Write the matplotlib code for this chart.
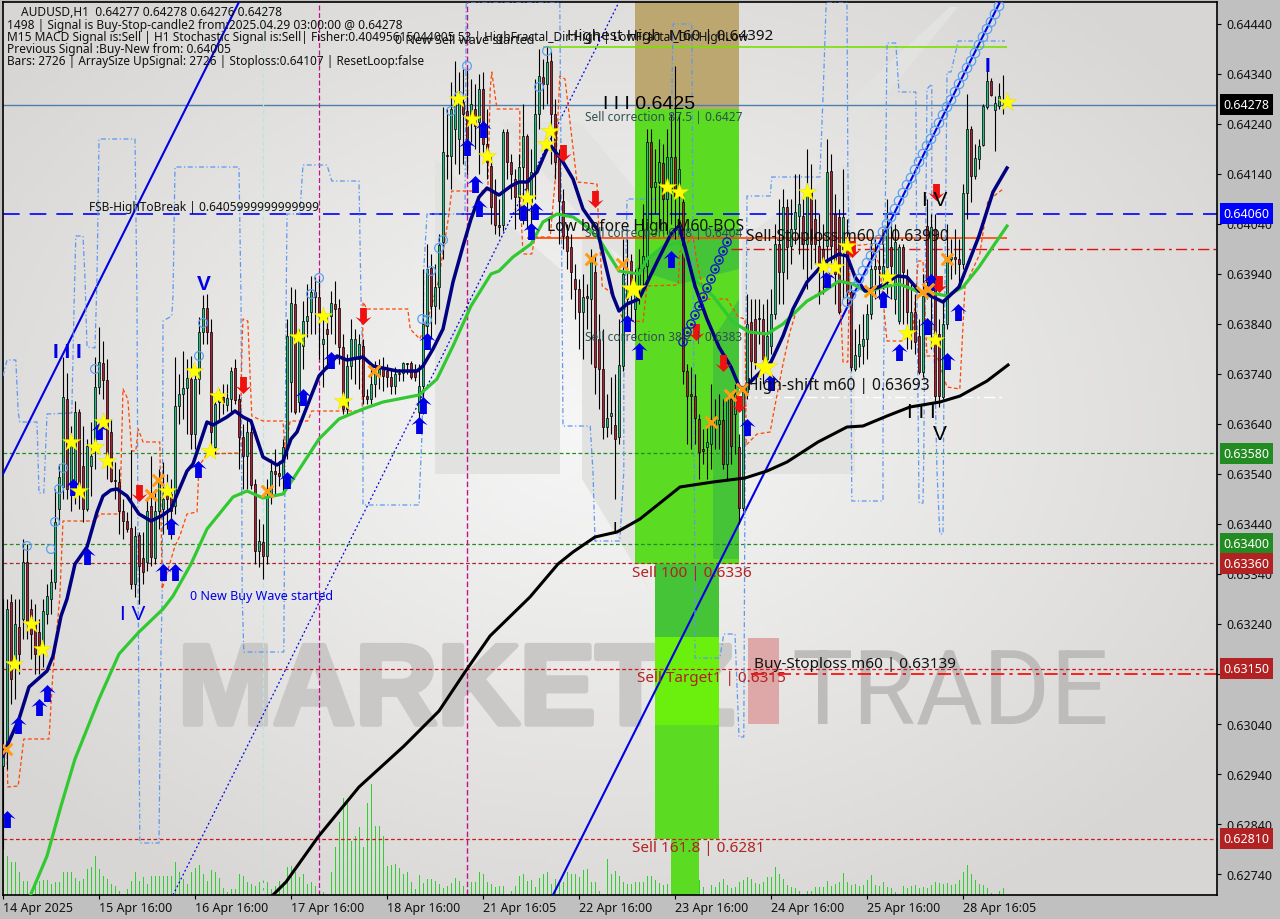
import matplotlib
matplotlib.use("Agg")
import matplotlib.pyplot as plt
import matplotlib.patheffects as pe
import numpy as np
from matplotlib.patches import Polygon, Rectangle
from matplotlib.path import Path

# prices are kept in points (price * 100000), one entry per H1 bar
opens = [62955,62999,63283,63169,63233,63249,63363,63269,63239,63223,63189,63259,63289,63323,63469,63513,63689,63515,63509,63663,
63555,63469,63555,63589,63713,63761,63727,63623,63527,63523,63465,63445,63431,63319,63417,63371,63363,63475,63371,63465,
63469,63509,63499,63475,63675,63699,63711,63729,63619,63729,63823,63871,63823,63593,63683,63693,63677,63689,63751,63689,
63613,63575,63623,63519,63385,63403,63375,63493,63545,63541,63535,63595,63723,63879,63683,63795,63845,63863,63903,63893,
63799,63829,63855,63879,63871,63793,63669,63755,63773,63769,63795,63695,63689,63719,63735,63749,63745,63733,63715,63739,
63741,63761,63761,63743,63663,63715,63835,63951,63875,63913,64003,64177,64175,64229,64209,64283,64265,64249,64269,64243,
64309,64199,64155,64099,64037,64037,64223,64163,64129,64093,64153,64215,64083,64143,64259,64333,64319,64365,64259,64169,
64085,64015,63993,63929,63909,63863,63895,63889,63943,63809,63749,63633,63655,63637,63613,63755,63889,63965,63869,63915,
63951,63955,64203,64113,64123,64161,64089,64103,64173,64099,64083,63745,63699,63695,63649,63589,63593,63599,63633,63639,
63647,63559,63689,63659,63593,63471,63703,63843,63849,63851,63849,63769,63795,63859,63999,63943,64073,63995,64029,64055,
64055,63999,64103,64049,63995,63989,63995,64145,64059,64053,63989,64003,63903,63749,63775,63795,63809,63859,63949,63955,
63933,63953,63993,63889,63845,63993,63933,63825,63863,63815,63743,64035,63909,64029,63819,63693,63839,63969,63973,63969,
63959,64101,64229,64135,64169,64197,64273,64325,64267,64275,64277]
closes = [62975,63269,63129,63239,63179,63363,63239,63219,63179,63189,63265,63295,63323,63443,63533,63693,63509,63595,63663,63509,
63469,63595,63575,63713,63763,63727,63563,63525,63525,63465,63445,63429,63319,63415,63355,63343,63465,63373,63465,63525,
63489,63489,63465,63675,63699,63711,63731,63619,63729,63823,63871,63823,63623,63679,63693,63683,63691,63745,63687,63613,
63575,63623,63517,63385,63405,63375,63493,63545,63539,63535,63593,63815,63881,63663,63809,63845,63855,63903,63893,63855,
63809,63819,63881,63869,63793,63669,63755,63809,63809,63799,63695,63689,63719,63743,63749,63735,63733,63715,63739,63741,
63761,63759,63733,63733,63715,63839,63949,63875,63913,63997,64183,64175,64269,64289,64283,64259,64209,64279,64235,64309,
64199,64163,64073,64037,64033,64223,64163,64139,64093,64153,64215,64089,64143,64259,64335,64319,64363,64259,64163,64085,
64015,63985,63943,63909,63863,63893,63891,63969,63753,63749,63633,63651,63661,63609,63757,63939,63909,63909,63909,63951,
63975,64203,64113,64123,64163,64089,64173,64173,64095,64149,63745,63695,63695,63651,63583,63585,63603,63649,63649,63647,
63559,63689,63595,63699,63471,63703,63839,63765,63763,63849,63769,63815,63859,63999,63943,64073,63993,64029,64063,64079,
63999,64103,63999,63999,63955,63955,64143,63995,63939,63863,64053,63903,63753,63777,63799,63809,63859,63949,63955,63949,
63955,64029,63955,64003,63993,63943,63863,63863,63803,63743,63895,63923,64033,63695,63695,63839,63969,63973,63969,63959,
64101,64229,64135,64171,64195,64275,64325,64297,64281,64295,64278]
highs = [63289,63289,63299,63289,63289,63409,63399,63289,63279,63249,63289,63319,63349,63509,63559,63773,63741,63635,63685,63669,
63635,63609,63643,63773,63833,63805,63769,63649,63563,63549,63489,63463,63587,63435,63423,63423,63489,63575,63509,63549,
63563,63539,63529,63773,63739,63785,63769,63775,63755,63853,63897,63899,63849,63699,63709,63719,63719,63753,63769,63699,
63639,63649,63649,63529,63449,63439,63529,63569,63589,63565,63609,63849,63913,63909,63829,63885,63919,63935,63933,63929,
63859,63853,63905,63925,63889,63819,63779,63849,63829,63819,63809,63709,63749,63765,63769,63773,63759,63749,63753,63749,
63763,63761,63765,63759,63759,63949,63999,63979,63959,64019,64273,64269,64323,64365,64343,64349,64349,64329,64319,64339,
64343,64269,64179,64129,64089,64229,64229,64179,64149,64179,64279,64219,64189,64329,64389,64369,64393,64385,64289,64189,
64109,64039,64019,63959,63929,63939,63919,63989,63979,63859,63829,63699,63733,63739,63849,64009,64009,63979,63949,63989,
64079,64229,64229,64189,64209,64199,64229,64259,64355,64259,64099,63759,63753,63739,63659,63629,63639,63719,63689,63699,
63689,63695,63699,63719,63619,63713,63899,63889,63889,63889,63879,63889,63909,64039,64089,64109,64089,64089,64139,64139,
64089,64189,64159,64089,64059,64039,64209,64179,64099,64069,64149,64049,63919,63829,63839,63859,63879,64009,64009,63989,
63999,64089,64039,64039,63999,63999,63949,63919,63899,63849,63939,64089,64059,64059,63849,63889,64039,64009,64029,64009,
64119,64299,64235,64199,64209,64279,64345,64331,64295,64321,64337]
lows = [62789,62949,63079,63089,63139,63209,63209,63169,63139,63139,63153,63239,63259,63309,63439,63489,63489,63465,63479,63469,
63443,63465,63495,63549,63699,63689,63529,63523,63489,63419,63409,63423,63309,63293,63279,63319,63345,63355,63359,63429,
63419,63429,63409,63459,63639,63649,63619,63589,63589,63699,63799,63799,63589,63579,63649,63659,63665,63659,63679,63549,
63509,63509,63509,63359,63353,63329,63359,63479,63499,63515,63499,63569,63663,63659,63663,63749,63813,63819,63819,63769,
63713,63749,63819,63799,63759,63659,63659,63729,63719,63709,63679,63679,63679,63693,63709,63705,63713,63699,63699,63725,
63725,63739,63729,63725,63639,63659,63819,63809,63839,63869,63969,64129,64109,64159,64139,64159,64139,64203,64189,64139,
64183,64129,64039,64019,64015,64025,64129,64089,64029,64049,64039,64029,64019,64089,64229,64269,64279,64159,64129,63999,
63989,63949,63889,63849,63789,63769,63829,63759,63699,63669,63609,63613,63619,63489,63599,63745,63849,63849,63809,63879,
63909,63919,64039,64059,64029,64019,64019,64039,64009,64019,63719,63599,63589,63599,63529,63559,63529,63549,63589,63589,
63549,63529,63559,63579,63439,63465,63689,63719,63749,63799,63719,63749,63779,63849,63879,63879,63929,63959,63999,63979,
63949,63909,63949,63959,63879,63899,63959,63959,63879,63859,63889,63879,63745,63745,63753,63759,63769,63849,63889,63889,
63909,63899,63889,63859,63839,63839,63789,63789,63779,63739,63733,63889,63789,63685,63673,63689,63829,63929,63939,63909,
63949,64049,64083,64129,64149,64195,64269,64295,64185,64269,64259]
volumes = [46,39,33,33,23,14,14,3,9,14,15,15,11,13,13,23,23,23,17,14,16,26,28,39,26,19,16,11,9,4,1,6,14,23,14,18,11,19,19,19,
19,19,19,33,23,16,11,23,27,30,21,14,25,23,17,7,3,6,6,21,19,13,11,9,13,19,13,6,9,14,13,28,29,23,18,21,11,13,9,3,
3,1,23,48,73,97,96,54,59,68,48,92,111,69,69,59,29,30,31,27,21,23,13,6,20,12,16,16,14,11,7,9,12,17,14,9,6,13,13,23,
21,13,11,8,9,9,1,4,9,19,21,14,15,8,17,21,23,11,16,13,13,23,21,21,18,25,26,13,13,4,1,36,21,24,19,13,11,11,13,13,
13,19,19,15,12,10,11,39,39,39,38,20,18,16,15,8,1,10,8,13,16,10,7,8,13,15,18,16,12,11,13,18,18,28,21,16,10,8,7,4,
1,4,4,8,8,8,14,9,11,13,22,13,10,11,9,10,15,20,10,9,13,8,7,3,1,9,7,9,10,7,8,7,10,13,12,11,12,10,11,15,
23,30,21,15,11,10,7,2,1,4,7]

navy_bar = [0,1,4,6.5,11,12.5,14.5,16,18,21,23.5,25,27,28.5,31,34,37,40,42,46,47.5,51,52.5,56,58,60,62,65,68.5,70,72,73.5,79,83.5,86,90,92.5,98.5,103.5,105,107.5,110,112.5,115,117,119,121,124,127,129,131,133.5,136,137,140,142.5,145,148.5,152.5,154,156,159,160.5,163.5,167,169,170.5,173,176,179,182,184,185,192,195,197.5,201,205.5,209,211,213,215.5,219,223.5,226,229,232,233.5,235,239,244,247.5,251]
navy_val = [62975,62995,63049,63113,63145,63175,63255,63289,63359,63393,63463,63495,63507,63509,63495,63459,63445,63457,63469,63545,63559,63643,63637,63653,63665,63653,63645,63573,63557,63565,63609,63623,63735,63775,63767,63773,63755,63745,63745,63755,63789,63829,63923,63995,64049,64093,64111,64097,64115,64123,64123,64143,64189,64195,64163,64129,64069,64029,63895,63865,63879,63889,63913,63963,64019,64035,63993,63915,63849,63793,63753,63715,63709,63763,63815,63869,63923,63963,63979,63975,63933,63905,63913,63935,63933,63905,63895,63889,63883,63913,64015,64103,64151]
green_bar = [7,11,14.5,18,24,29,34,40,42.5,47,51,57.5,61,65,70,72.5,79,84,90,95,104,108.5,112.5,117,122,124,127.5,132,135,138.5,142.5,146,149,154,159,161,165,169,173.5,177.5,182.5,186.5,191,195,201,205,209,212.5,216,220,224,228.5,233.5,236,240,244,251]
green_val = [62699,62775,62875,62969,63089,63179,63223,63269,63295,63359,63429,63493,63505,63491,63499,63529,63609,63649,63669,63683,63697,63729,63795,63875,63939,63945,63973,63999,64043,64059,64053,64033,64009,63945,63939,63969,63993,64003,63923,63895,63843,63823,63819,63839,63885,63903,63925,63919,63903,63913,63919,63905,63899,63895,63913,63953,64035]
black_bar = [67.5,70.75,78.75,89,100.25,109,115.5,121.75,131.75,138.75,142.5,148,153.5,159.25,169.25,177.5,185.5,191,196,203.75,211,215,221,226.75,234.25,239.25,246,251.25]
black_val = [62697,62723,62813,62913,62995,63065,63143,63215,63293,63359,63383,63413,63423,63449,63513,63523,63531,63545,63563,63603,63633,63635,63655,63673,63683,63695,63725,63757]

envelope_bar = [0,1,3.2,3.8,4.2,8.5,9,10.2,11,17.2,17.8,18.2,20,20.5,21,23,23.5,24,33,33.5,33.8,34.2,39,39.5,39.8,40,42.2,42.5,43,59,59.5,59.8,60.2,70.2,70.8,71,74.2,75,81,82.2,89,89.5,90,90,104,104.8,105.2,106,108.5,115.5,115.8,139.2,140,146.8,147.5,148,154.2,155.2,155.2,156,166.8,167.5,172.2,173,173,179.2,180.2,183,184,185.2,185.5,186,191.8,192.2,204.2,205,205.8,211,211.2,212,212.2,220,220,221,223.2,224,228.2,228.5,229,230,230.2,231,232.2,232.2,233,233.5,234.2,235,235.2,236,237,238.8,250.5]
envelope_val = [63735,63767,63767,63663,63643,63643,63501,63501,63659,63661,63889,64015,64015,63929,63793,63791,63929,64209,64209,63889,63293,62801,62801,63189,63295,63845,63855,63895,64153,64153,63889,63295,63183,63183,63889,64059,64059,64157,64157,64125,64125,63889,63755,63477,63477,63629,63949,64059,64059,64059,64483,64483,63635,63635,63543,63405,63405,63543,63723,64089,64089,64439,64439,63295,63171,63171,63219,63219,63013,63013,63529,64095,64095,64133,64133,64291,64483,64483,64155,63755,63485,63485,63623,64401,64401,64303,64303,63895,63481,63481,63583,64309,64319,63895,63729,63543,63419,63419,63683,64343,64343,64405,64405]
stop_bar = [1,1.2,3.8,5.2,11.5,12.5,14.2,15,23,24.2,29.2,30,31.2,32.2,33.2,33.8,35,39.2,39.8,43,44.2,46,48.5,49,51,59.2,59.8,60,61.2,62.2,65,70,70.5,71.8,76.2,77.2,89.8,90,91,101.2,101.8,104.2,106.2,108.8,111.2,112.2,121.2,121.8,122.2,123.5,129.2,129.2,130,132.2,133,136.8,138,139.2,140.5,143.5,148.5,148.8,149.8,151.8,155,160,161,168.8,169.2,172.5,173.5,175.5,181,183.8,185.5,185.8,188.5,191.8,192.5,195,196.8,198.5,202.2,206,209.2,210,211.2,211.8,217.2,219.2,221,225,227.5,228.8,230,231,233.5,236,239.2,240.5,244.2,246.2,250]
stop_val = [62989,62913,62915,63009,63009,63145,63293,63445,63445,63459,63459,63709,63689,63585,63585,63629,63603,63603,63309,63395,63415,63459,63463,63555,63579,63581,63809,63849,63845,63655,63645,63645,63589,63645,63645,63665,63665,63883,63869,63869,63829,63809,63849,63923,64043,64105,64105,64309,64343,64269,64269,64109,63979,63979,64013,64013,64123,64335,64329,64123,64119,64055,63915,63903,63849,63843,63915,63917,63983,64015,63963,63889,63889,63853,63849,63597,63619,63623,63655,63759,63825,63869,63889,63919,63919,63763,63763,63995,63999,63955,63805,63805,63829,63965,63965,63775,63775,63713,63709,63915,63979,64085,64109]

star_bar = [2.8,7,9.8,17,19,23,25,26,41,47.8,51.8,53.8,73.8,80,85,113.8,117.2,121,131,135.8,136.8,166,169,201,205,208,211,221,226,233,251]
star_val = [63159,63239,63189,63603,63505,63593,63643,63565,63505,63745,63585,63695,63813,63855,63685,64289,64249,64175,64091,64199,64225,64113,64103,64103,63955,63953,63995,63933,63821,63807,64283]
big_star_bar = [157.5,190.5]
big_star_val = [63909,63753]
up_bar = [1,3.8,9,11,21,17.5,24,40,43,42,48.8,71,75,82,104,105,106,116,118,119,120,130,133,132,156,159,167,186,192,206,220,224,231,232,236,238.8]
up_val = [62849,63037,63073,63101,63375,63513,63625,63343,63343,63435,63549,63527,63693,63767,63637,63677,63805,64193,64119,64071,64229,64063,64065,64025,63841,63785,63969,63633,63723,63929,63889,63783,63835,63923,63765,63863]
down_bar = [34,60,90,140,148,173.2,180,184,233.2,234,212.2]
down_val = [63501,63717,63855,64181,64089,63823,63761,63679,64103,63919,63989]
cross_bar = [0.8,37,38.8,66,92.8,147,154.8,177,181.8,184.8,216.8,229.8,231.2,236]
cross_val = [62989,63497,63527,63505,63745,63969,63959,63643,63697,63709,63905,63903,63909,63969]
ring_bar = [6,12,13,14,15,23,49,50,77,79,104.8,106,107,109,110,112,114,116,134,136]
ring_val = [63395,63389,63443,63509,63551,63749,63775,63841,63899,63931,63849,63847,63945,63991,64007,64265,64295,64355,64313,64385]
chain_low_bar = list(range(170, 182))
chain_low_val = [63803,63823,63839,63857,63875,63893,63911,63929,63949,63967,63985,64003]
chain_high_bar = list(range(211, 250))
chain_high_val = [63883,63897,63913,63929,63945,63961,63975,63991,64007,64023,64039,64053,64069,64085,64101,64117,64131,64147,64163,64179,64195,64209,64225,64241,64257,64273,64287,64303,64319,64335,64351,64365,64381,64397,64413,64429,64443,64459,64475]

x_tick_bars = [0,24,48,72,96,120,144,168,192,216,240]
x_tick_labels = ["14 Apr 2025","15 Apr 16:00","16 Apr 16:00","17 Apr 16:00","18 Apr 16:00","21 Apr 16:05","22 Apr 16:00","23 Apr 16:00","24 Apr 16:00","25 Apr 16:00","28 Apr 16:05"]
y_tick_labels = ["0.64440","0.64340","0.64240","0.64140","0.64040","0.63940","0.63840","0.63740","0.63640","0.63540","0.63440","0.63340","0.63240","0.63140","0.63040","0.62940","0.62840","0.62740"]
tag_labels = ["0.64278","0.64060","0.63580","0.63400","0.63360","0.63150","0.62810"]
tag_colors = ["#000000","#0000ff","#228b22","#228b22","#b22222","#b22222","#b22222"]


W, H = 1280, 920
fig = plt.figure(figsize=(W / 100, H / 100), dpi=100, facecolor="#c0c0c0")
plt.rcParams["font.family"] = ["Noto Sans", "DejaVu Sans"]
rect = [3 / W, 1 - 896 / H, (1217 - 3) / W, (896 - 3) / H]


def px(points):
    # 画面ピクセル -> figure座標 (装飾用)
    return [(x / W, 1 - y / H) for x, y in points]


def label(x, y, s, size=9, color="#111111", **kw):
    fig.text(x / W, 1 - y / H, s, fontsize=size, color=color, va="center", zorder=20, **kw)


# --- 背景層: グラデーション, ロゴ, 出来高 ---
back = fig.add_axes(rect, zorder=1)
back.set_xlim(0, 303.5)
back.set_ylim(0, 893)
back.axis("off")
yy, xx = np.mgrid[0:1:200j, 0:1:270j]
r = np.clip(np.hypot((xx - 0.49) / 0.62, (yy - 0.53) / 0.62), 0, 1)
shade = 0.97 - 0.125 * r
rgb = np.dstack([shade, shade - 0.004 * r, shade - 0.012 * r])
back.imshow(rgb, extent=[0, 303.5, 0, 893], aspect="auto", origin="lower", zorder=0)

logo = [
    [(435, 160), (560, 270), (560, 475), (435, 475)],
    [(500, 123), (580, 123), (635, 190), (635, 270), (600, 240)],
    [(582, 190), (635, 300), (635, 565), (655, 600), (582, 480)],
    [(742, 240), (855, 158), (855, 475), (742, 475)],
    [(820, 128), (950, 8), (958, 8), (850, 140)],
]
for shape in logo:
    back.add_patch(Polygon(px(shape), transform=fig.transFigure, facecolor="#e2e2e1", edgecolor="none", zorder=1))

back.text(178 / W, 1 - 725 / H, "MARKETZ", transform=fig.transFigure, fontsize=82, fontweight="bold",
          family="Liberation Sans", color="#c9c8c6", va="baseline", zorder=2,
          path_effects=[pe.withStroke(linewidth=4, foreground="#c9c8c6")])
back.text(791 / W, 1 - 725 / H, "TRADE", transform=fig.transFigure, fontsize=74,
          family="Roboto", color="#bdbcba", va="baseline", zorder=2)
back.vlines(np.arange(len(volumes)), 0, volumes, color="#32cd32", linewidth=0.72, antialiased=False, zorder=3)

# --- メイン層 ---
ax = fig.add_axes(rect, zorder=2)
ax.patch.set_alpha(0)
ax.set_xlim(0, 303.5)
ax.set_ylim(0.62697, 0.64483)
for side in ax.spines.values():
    side.set_color("black")
    side.set_linewidth(1.2)


def price(values):
    return np.array(values) / 100000


# フィボ帯 (figure座標)
bands = [
    ((635, 3), (739, 110), "#bda770"),
    ((635, 110), (739, 565), "#5bdc22"),
    ((655, 565), (719, 840), "#5bdc22"),
    ((655, 565), (719, 638), "#45c437"),
    ((655, 638), (719, 726), "#6bf00e"),
    ((671, 840), (699, 896), "#5bdc22"),
    ((748, 639), (779, 725), "#dfa8a8"),
]
for (x0, y0), (x1, y1), c in bands:
    ax.add_patch(Rectangle((x0 / W, 1 - y1 / H), (x1 - x0) / W, (y1 - y0) / H, transform=fig.transFigure,
                           facecolor=c, edgecolor="none", zorder=1))
darker = [
    [(713, 560), (739, 560), (739, 300), (713, 340)],
    [(635, 270), (680, 230), (739, 230), (739, 270), (680, 285)],
]
for shape in darker:
    ax.add_patch(Polygon(px(shape), transform=fig.transFigure, facecolor="#45c437", edgecolor="none", zorder=1.1))

# 水平線
ax.axhline(0.64278, color="#4f7fa8", linewidth=1, zorder=2)
ax.axhline(0.64060, color="#0000ff", linewidth=1.2, linestyle=(0, (10, 6)), zorder=2)
ax.axhline(0.63580, color="#228b22", linewidth=0.9, linestyle=(0, (3, 2)), zorder=2)
ax.axhline(0.63400, color="#228b22", linewidth=0.9, linestyle=(0, (3, 2)), zorder=2)
ax.axhline(0.63360, color="#a52a2a", linewidth=0.9, linestyle=(0, (3, 2)), zorder=2)
ax.axhline(0.63150, color="#d01818", linewidth=0.9, linestyle=(0, (3, 2)), zorder=2)
ax.axhline(0.62810, color="#d01818", linewidth=0.9, linestyle=(0, (3, 2)), zorder=2)
ax.hlines(0.63139, 187, 303.5, color="#ff0000", linewidth=1.2, linestyle=(0, (8, 3, 2, 3)), zorder=2)
ax.hlines(0.63990, 182, 303.5, color="#e01010", linewidth=1, linestyle=(0, (8, 3, 2, 3)), zorder=2)
ax.hlines(0.64012, 131, 251, color="#ff4500", linewidth=1.2, zorder=2)
ax.hlines(0.64392, 135, 251, color="#7ce000", linewidth=1.2, zorder=2)
ax.hlines(0.63693, 184, 250.5, color="white", linewidth=1, linestyle=(0, (8, 3, 2, 3)), zorder=2)

# 垂直線
ax.axvline(79, color="#c0148c", linewidth=0.9, linestyle=(0, (4, 2)), zorder=2)
ax.axvline(116, color="#c0148c", linewidth=1, linestyle=(0, (4, 2)), zorder=2)
ax.axvline(65, color="#b8e4e4", linewidth=0.9, linestyle=(0, (4, 2)), zorder=2)

# トレンドライン
ax.plot([0, 59], price([63539, 64483]), color="#0000e6", linewidth=1.5, zorder=3)
ax.plot([137.5, 249.25], price([62697, 64483]), color="#0000e6", linewidth=1.5, zorder=3)
ax.plot([42.5, 153.75], price([62697, 64479]), color="#0000e6", linewidth=0.9, linestyle=(0, (1.5, 2)), zorder=3)

# ステップ線
ax.plot(envelope_bar, price(envelope_val), color="#5d97f0", linewidth=0.9, linestyle=(0, (4, 2, 1, 2)), zorder=3)
ax.plot(stop_bar, price(stop_val), color="#ff4500", linewidth=0.9, linestyle=(0, (3, 2)), zorder=3)

# ローソク足
o, c, h, l = map(price, (opens, closes, highs, lows))
bars = np.arange(len(o))
ax.vlines(bars, l, h, color="black", linewidth=0.8, zorder=4)
colors = np.where(c >= o, "#22c07a", "#b02030")
ax.bar(bars, np.abs(c - o), bottom=np.minimum(o, c), width=0.72, color=colors, edgecolor="black", linewidth=0.5, zorder=5)

# 移動平均
ax.plot(black_bar, price(black_val), color="black", linewidth=2.2, zorder=6)
ax.plot(green_bar, price(green_val), color="#32c832", linewidth=2.3, zorder=6)
ax.plot(navy_bar, price(navy_val), color="#000080", linewidth=2.5, zorder=7)

# マーカー
up_arrow = Path([(0, 1), (0.95, 0.05), (0.4, 0.3), (0.4, -1), (-0.4, -1), (-0.4, 0.3), (-0.95, 0.05), (0, 1)], closed=True)
down_arrow = Path([(0, -1), (0.95, -0.05), (0.4, -0.3), (0.4, 1), (-0.4, 1), (-0.4, -0.3), (-0.95, -0.05), (0, -1)], closed=True)
ax.scatter(up_bar, price(up_val), marker=up_arrow, s=150, color="#0000e6", linewidths=0, zorder=8)
ax.scatter(down_bar, price(down_val), marker=down_arrow, s=150, color="#f01010", linewidths=0, zorder=8)
ax.scatter(ring_bar, price(ring_val), marker="o", s=40, facecolors="none", edgecolors="#5aa0f0", linewidths=0.9, zorder=8)
ax.scatter(chain_high_bar, price(chain_high_val), marker="o", s=46, facecolors="none", edgecolors="#5aa0f0", linewidths=0.9, zorder=8)
ax.scatter(chain_low_bar, price(chain_low_val), marker="o", s=36, facecolors="none", edgecolors="#1010d0", linewidths=0.9, zorder=8)
ax.scatter(chain_low_bar, price(chain_low_val), marker="o", s=5, color="#1010d0", linewidths=0, zorder=8)
ax.scatter(cross_bar, price(cross_val), marker="x", s=70, color="#ff9c12", linewidths=2.2, zorder=9)
ax.scatter(star_bar, price(star_val), marker="*", s=190, color="#ffff00", edgecolors="#e8d800", linewidths=0.3, zorder=10)
ax.scatter(big_star_bar, price(big_star_val), marker="*", s=340, color="#ffff00", edgecolors="#e8d800", linewidths=0.3, zorder=10)

# 軸
ax.set_xticks(x_tick_bars)
ax.set_xticklabels(x_tick_labels, ha="left", fontsize=9, color="#111111")
ax.set_yticks(price([64440 - 100 * k for k in range(len(y_tick_labels))]))
ax.set_yticklabels(y_tick_labels, fontsize=9, color="#111111")
ax.yaxis.tick_right()
ax.tick_params(axis="x", length=3, width=0.8, pad=1)
ax.tick_params(axis="y", length=3, width=0.8, pad=4)

# 価格タグ
tag_prices = [0.64278, 0.64060, 0.63580, 0.63400, 0.63360, 0.63150, 0.62810]
for p, s, col in zip(tag_prices, tag_labels, tag_colors):
    ax.text(1.0052, p, s, transform=ax.get_yaxis_transform(), fontsize=9, color="white", va="center", ha="left",
            clip_on=False, zorder=30, bbox=dict(facecolor=col, edgecolor="none", pad=2.6))

# 左上の情報テキスト
label(21, 12, "AUDUSD,H1  0.64277 0.64278 0.64276 0.64278", size=8.6)
label(7, 26, "1498 | Signal is Buy-Stop-candle2 from:2025.04.29 03:00:00 @ 0.64278", size=8.6)
label(7, 38, "M15 MACD Signal is:Sell | H1 Stochastic Signal is:Sell| Fisher:0.40495615044005 53 | HighFractal_Dir:High | LowFractal_Dir:HighLow", size=8.6)
label(7, 50, "Previous Signal :Buy-New from: 0.64005", size=8.6)
label(7, 62, "Bars: 2726 | ArraySize UpSignal: 2726 | Stoploss:0.64107 | ResetLoop:false", size=8.5)

# チャート上のラベル
label(395, 40, "0 New Sell wave started", size=9)
label(567, 36, "Highest High  M60 | 0.64392", size=11)
label(89, 207, "FSB-HighToBreak | 0.6405999999999999", size=8.6)
label(603, 105, "I I I 0.6425", size=14, color="black", family="Liberation Sans")
label(585, 117, "Sell correction 87.5 | 0.6427", size=8.6, color="#2f4f4f")
label(547, 227, "Low before High  M60-BOS", size=11.2)
label(585, 234, "Sell correction 61.8 | 0.6404", size=8.6, color="#2f4f4f")
label(746, 237, "Sell-Stoploss m60 | 0.63990", size=11.2)
label(585, 338, "Sell correction 38.2 | 0.6383", size=8.6, color="#2f4f4f")
label(747, 386, "High-shift m60 | 0.63693", size=11.2)
label(190, 597, "0 New Buy Wave started", size=9, color="#0000e6")
label(632, 574, "Sell 100 | 0.6336", size=11, color="#b22222")
label(637, 679, "Sell Target1 | 0.6315", size=11, color="#b22222")
label(754, 664, "Buy-Stoploss m60 | 0.63139", size=11, color="#111111")
label(632, 849, "Sell 161.8 | 0.6281", size=11, color="#b22222")

# 波動ラベル
wave = dict(family="Liberation Sans")
label(53, 353, "I I I", size=15, color="#0000e6", fontweight="bold", **wave)
label(197, 284, "V", size=15, color="#0000e6", fontweight="bold", **wave)
label(120, 615, "I V", size=15, color="#0000e6", **wave)
label(985, 66, "I", size=15, color="#0000e6", fontweight="bold", **wave)
label(922, 200, "I V", size=15, color="black", **wave)
label(907, 412, "I I I", size=15, color="black", **wave)
label(933, 435, "V", size=15, color="black", **wave)
label(613, 530, "I", size=12, color="black", **wave)

fig.savefig("out.png", dpi=100)
